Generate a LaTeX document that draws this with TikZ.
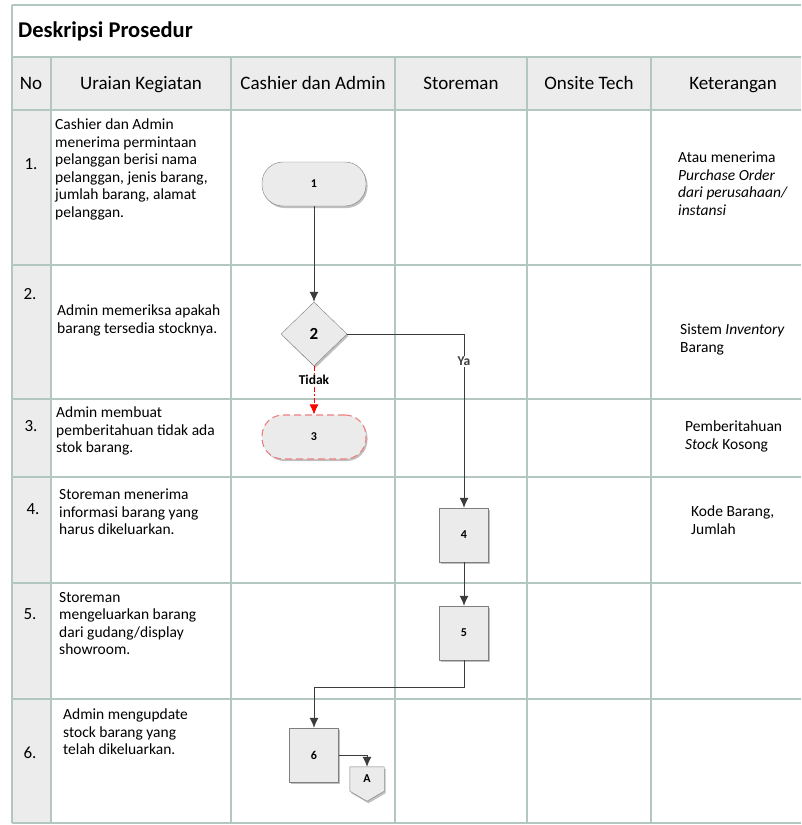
\documentclass[tikz,border=0pt]{standalone}
\usepackage{fontspec}
\setmainfont{Carlito}
\usetikzlibrary{shapes.geometric,arrows.meta,shadows}

\definecolor{tableline}{HTML}{B4C6C0}
\definecolor{cellgray}{HTML}{ECECEC}
\definecolor{boxgray}{HTML}{EBEBEB}
\definecolor{boxline}{HTML}{7F7F7F}
\definecolor{flowline}{HTML}{3C3C3C}
\definecolor{nolink}{HTML}{EE7F7F}

\tikzset{
  rowtext/.style={anchor=north west,align=left,inner sep=0pt,font=\fontsize{15.5}{17.5}\selectfont},
  headtext/.style={anchor=base,inner sep=0pt,font=\fontsize{19}{22}\selectfont},
  notext/.style={anchor=base,inner sep=0pt,font=\fontsize{17}{20}\selectfont},
  boxshadow/.style={drop shadow={shadow xshift=1.5pt,shadow yshift=-2pt,opacity=.25,fill=black}},
  terminal/.style={draw=boxline,fill=boxgray,rounded corners=21pt,minimum width=104pt,minimum height=44pt,inner sep=0pt,font=\fontsize{12}{14}\selectfont\bfseries,boxshadow},
  process/.style={draw=boxline,fill=boxgray,minimum width=49pt,minimum height=54pt,inner sep=0pt,font=\fontsize{12}{14}\selectfont\bfseries,boxshadow},
  decision/.style={draw=boxline,fill=boxgray,diamond,minimum width=66pt,minimum height=64pt,inner sep=0pt,font=\fontsize{17}{20}\selectfont\bfseries,boxshadow},
  flowlabel/.style={fill=white,inner sep=1pt,font=\fontsize{13.5}{15}\selectfont\bfseries}
}

\begin{document}
\begin{tikzpicture}[x=1pt,y=-1pt]

\useasboundingbox (0,0) rectangle (801,825);
\fill[white] (0,0) rectangle (801,825);

\fill[cellgray] (12,57) rectangle (801,110);
\fill[cellgray] (12,110) rectangle (51,823);

\draw[tableline,line width=2pt] (12,5) -- (801,5);
\foreach \y in {57,110,265,399,477,583,699,823}
  \draw[tableline,line width=1.3pt] (12,\y) -- (801,\y);
\draw[tableline,line width=1.6pt] (12,5) -- (12,823);
\foreach \x in {51,231,395,527,651}
  \draw[tableline,line width=1.3pt] (\x,57) -- (\x,823);

\node[anchor=base west,inner sep=0pt,font=\fontsize{22.5}{26}\selectfont\bfseries] (title) at (18,37) {Deskripsi Prosedur};

\node[headtext] (hno) at (31,89) {No};
\node[headtext] (huraian) at (141,89) {Uraian Kegiatan};
\node[headtext] (hcashier) at (313,89) {Cashier dan Admin};
\node[headtext] (hstore) at (461,89) {Storeman};
\node[headtext] (honsite) at (589,89) {Onsite Tech};
\node[headtext] (hket) at (733,89) {Keterangan};

\node[notext] (no1) at (31,169) {1.};
\node[notext] (no2) at (30,299) {2.};
\node[notext] (no3) at (31,431) {3.};
\node[notext] (no4) at (33,514) {4.};
\node[notext] (no5) at (30,619) {5.};
\node[notext] (no6) at (30,758) {6.};

\node[rowtext] (uraian1) at (55,119) {Cashier dan Admin\\menerima permintaan\\pelanggan berisi nama\\pelanggan, jenis barang,\\jumlah barang, alamat\\pelanggan.};
\node[rowtext] (uraian2) at (57,305) {Admin memeriksa apakah\\barang tersedia stocknya.};
\node[rowtext] (uraian3) at (56,407) {Admin membuat\\pemberitahuan tidak ada\\stok barang.};
\node[rowtext] (uraian4) at (59,489) {Storeman menerima\\informasi barang yang\\harus dikeluarkan.};
\node[rowtext] (uraian5) at (59,592) {Storeman\\mengeluarkan barang\\dari gudang/display\\showroom.};
\node[rowtext] (uraian6) at (63,709) {Admin mengupdate\\stock barang yang\\telah dikeluarkan.};

\node[rowtext] (ket1) at (678,152) {Atau menerima\\\textit{Purchase Order}\\\textit{dari perusahaan/}\\\textit{instansi}};
\node[rowtext] (ket2) at (680,324) {Sistem \textit{Inventory}\\Barang};
\node[rowtext] (ket3) at (685,421) {Pemberitahuan\\\textit{Stock} Kosong};
\node[rowtext] (ket4) at (691,506) {Kode Barang,\\Jumlah};

\node[terminal] (node1) at (314,184) {1};
\node[decision] (node2) at (314,334) {2};
\node[terminal,draw=nolink,line width=1.1pt,dash pattern=on 7pt off 4pt] (node3) at (314,437) {3};
\node[process] (node4) at (464,535) {4};
\node[process] (node5) at (464,633) {5};
\node[process] (node6) at (314,755) {6};

\node[minimum width=34pt,minimum height=24pt,inner sep=0pt] (offA) at (367,779) {};
\draw[draw=boxline,fill=boxgray,boxshadow] (offA.north west) -- (offA.north east) -- (offA.south east) -- ([yshift=-10pt]offA.south) -- (offA.south west) -- cycle;
\node[inner sep=0pt,font=\fontsize{12}{14}\selectfont\bfseries] (labelA) at (offA) {A};

\path [-{Latex[length=10pt,width=9pt]},flowline,line width=1pt] (node1) edge (node2);
\draw [-{Latex[length=10pt,width=9pt]},flowline,line width=1pt] (node2.east) -| node[flowlabel,pos=0.578] {Ya} (node4.north);
\draw [-{Latex[length=10pt,width=9pt]},red,line width=0.8pt,dash pattern=on 5pt off 2pt on 1.5pt off 2pt] (node2.south) -- node[flowlabel,text=black,pos=0.28] {Tidak} (node3.north);
\path [-{Latex[length=10pt,width=9pt]},flowline,line width=1pt] (node4) edge (node5);
\draw [-{Latex[length=10pt,width=9pt]},flowline,line width=1pt] (node5.south) -- ++(0,27) -| (node6.north);
\draw [-{Latex[length=10pt,width=9pt]},flowline,line width=1pt] (node6.east) -| (offA.north);

\end{tikzpicture}
\end{document}
